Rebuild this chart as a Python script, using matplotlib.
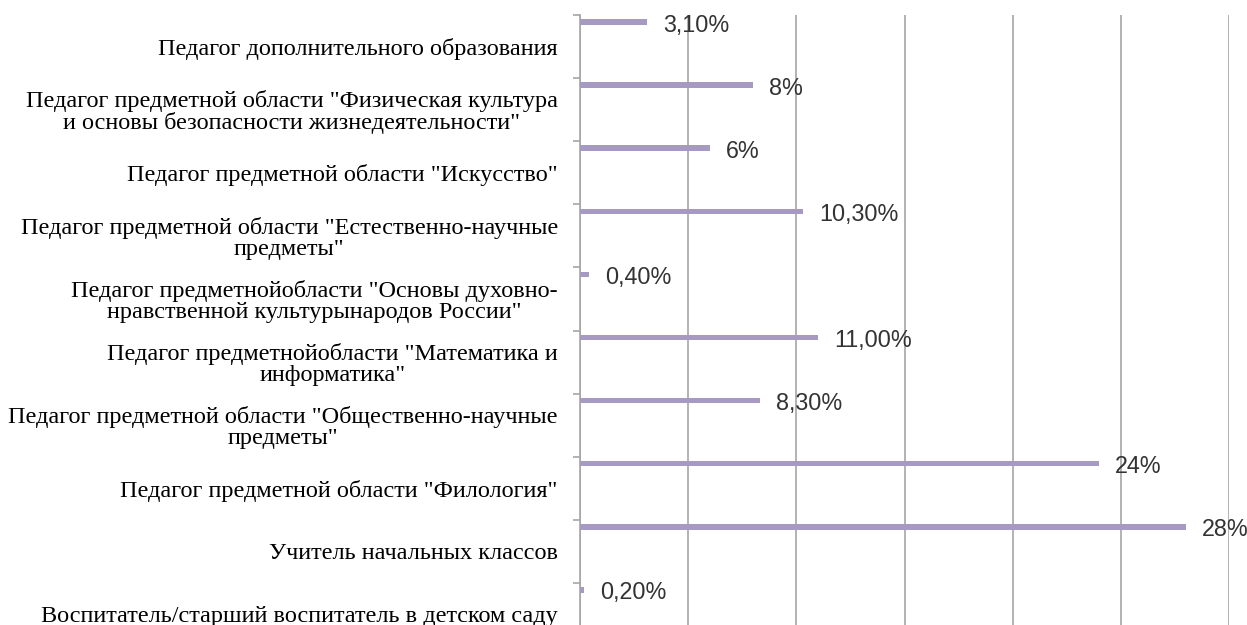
import matplotlib.pyplot as plt
import numpy as np

categories = [
    "Воспитатель/старший воспитатель в детском саду",
    "Учитель начальных классов",
    "Педагог предметной области \"Филология\"",
    "Педагог предметной области \"Общественно-научные\nпредметы\"",
    "Педагог предметнойобласти \"Математика и\nинформатика\"",
    "Педагог предметнойобласти \"Основы духовно-\nнравственной культурынародов России\"",
    "Педагог предметной области \"Естественно-научные\nпредметы\"",
    "Педагог предметной области \"Искусство\"",
    "Педагог предметной области \"Физическая культура\nи основы безопасности жизнедеятельности\"",
    "Педагог дополнительного образования",
]
values = [0.2, 28, 24, 8.3, 11, 0.4, 10.3, 6, 8, 3.1]
value_labels = ["0,20%", "28%", "24%", "8,30%", "11,00%", "0,40%",
                "10,30%", "6%", "8%", "3,10%"]

BAR_COLOR = "#a79ac2"
GRID_COLOR = "#a6a6a6"

fig = plt.figure(figsize=(12.47, 6.25), dpi=100)
# axes top sits at y=15px, the bottom band runs past the image edge
ax = fig.add_axes([580 / 1247, -21 / 625, 649 / 1247, 631 / 625])

pos = np.arange(len(categories))
# bars sit near the top of each category band
bar_y = pos + 0.5 - 7 / 63.1
ax.barh(bar_y, values, height=0.088, color=BAR_COLOR, zorder=3)

for y, v, lbl in zip(bar_y, values, value_labels):
    ax.annotate(lbl, (v, y), xytext=(11.5, -2.2), textcoords="offset points",
                ha="left", va="center", fontsize=16.8, color="#333333",
                family="Liberation Sans", zorder=4)

ax.set_xlim(0, 30)
ax.set_ylim(-0.5, len(categories) - 0.5)
ax.set_xticks(np.arange(0, 31, 5))
ax.tick_params(axis="x", length=0, labelbottom=False)
ax.grid(axis="x", color=GRID_COLOR, lw=1.2, zorder=0)

ax.set_yticks(pos, categories, multialignment="center", linespacing=1.0,
              family="Liberation Serif", fontsize=17.5)
ax.set_yticks(pos + 0.5, minor=True)
ax.tick_params(axis="y", which="major", length=0, pad=16)
ax.tick_params(axis="y", which="minor", length=5, color=GRID_COLOR, width=1.2)

for side in ["top", "right", "bottom"]:
    ax.spines[side].set_visible(False)
ax.spines["left"].set_color(GRID_COLOR)
ax.spines["left"].set_linewidth(1.2)

fig.savefig("out.png", dpi=100)
